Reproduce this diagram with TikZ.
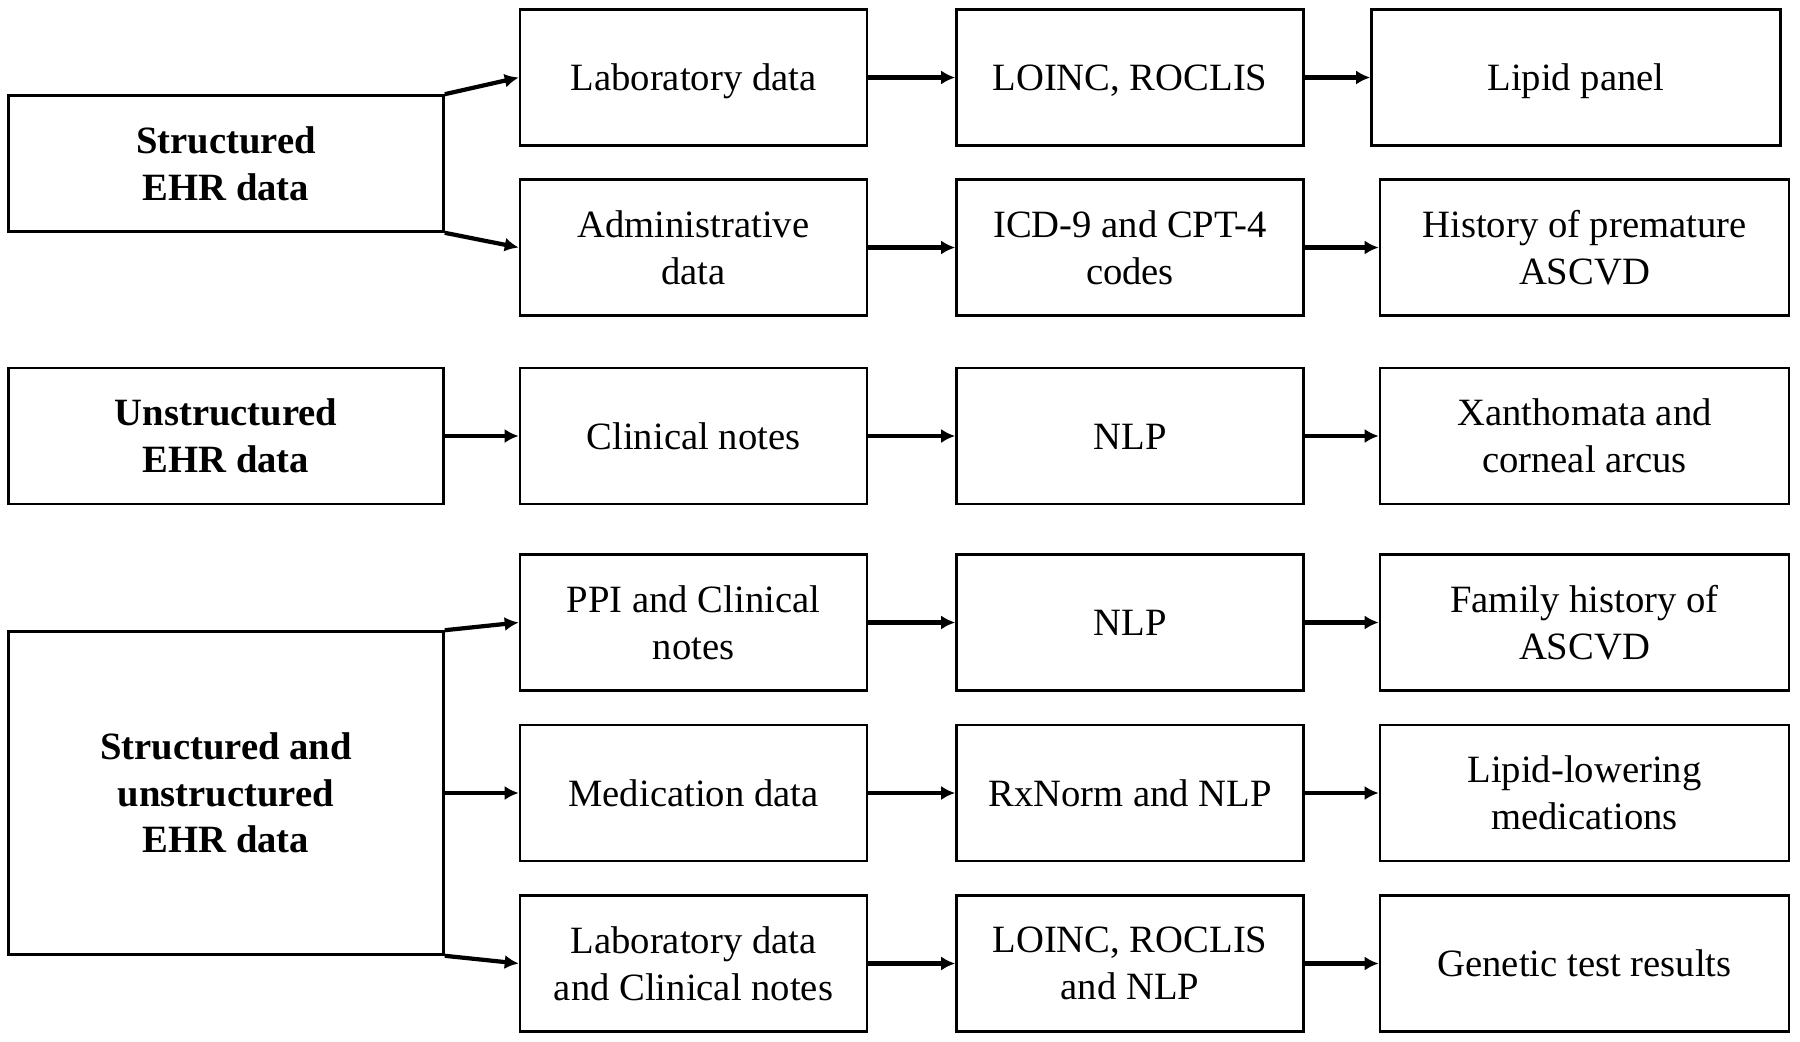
\documentclass[tikz,border=0pt]{standalone}
\usepackage{fontspec}
\setmainfont{Liberation Serif}
\usetikzlibrary{arrows.meta}
\tikzset{
  box/.style={draw, line width=1.5pt, minimum width=6.94cm, minimum height=2.72cm, align=center, inner sep=0pt,
    font=\fontsize{22}{26.6}\selectfont},
  one/.style={box, execute at begin node={\rule{0pt}{20.2pt}}, execute at end node={\rule[-5pt]{0pt}{5pt}}},
  src/.style={box, minimum width=8.7cm, font=\fontsize{22}{26.6}\selectfont\bfseries},
  wide/.style={box, minimum width=8.18cm},
  link/.style={->, line width=2.4pt}
}
\begin{document}
\begin{tikzpicture}[>={Latex[length=2.8mm,width=2.8mm]}, x=0.02cm, y=-0.02cm]
\useasboundingbox (0,0) rectangle (1800,1042);
\node[src] (s1) at (226,163.5) {Structured\\EHR data};
\node[src] (s2) at (226,436) {Unstructured\\EHR data};
\node[src, minimum height=6.46cm] (s3) at (226,793) {Structured and\\unstructured\\EHR data};
\node[one] (a1) at (693.5,77.5) {Laboratory data};
\node[one] (b1) at (1130,77.5) {LOINC, ROCLIS};
\node[one, wide] (c1) at (1576,77.5) {Lipid panel};
\node[box] (a2) at (693.5,247.5) {Administrative\\data};
\node[box] (b2) at (1130,247.5) {ICD-9 and CPT-4\\codes};
\node[wide] (c2) at (1584.5,247.5) {History of premature\\ASCVD};
\node[one] (a3) at (693.5,436) {Clinical notes};
\node[one] (b3) at (1130,436) {NLP};
\node[wide] (c3) at (1584.5,436) {Xanthomata and\\corneal arcus};
\node[box] (a4) at (693.5,622.5) {PPI and Clinical\\notes};
\node[one] (b4) at (1130,622.5) {NLP};
\node[wide] (c4) at (1584.5,622.5) {Family history of\\ASCVD};
\node[one] (a5) at (693.5,793) {Medication data};
\node[one] (b5) at (1130,793) {RxNorm and NLP};
\node[wide] (c5) at (1584.5,793) {Lipid-lowering\\medications};
\node[box] (a6) at (693.5,963.5) {Laboratory data\\and Clinical notes};
\node[box] (b6) at (1130,963.5) {LOINC, ROCLIS\\and NLP};
\node[one, wide] (c6) at (1584.5,963.5) {Genetic test results};
\draw[link] (s1.north east)--(a1.west);
\draw[link] (s1.south east)--(a2.west);
\draw[link] (s2.east)--(a3.west);
\draw[link] (s3.north east)--(a4.west);
\draw[link] (s3.east)--(a5.west);
\draw[link] (s3.south east)--(a6.west);
\foreach \r in {1,...,6}
{
    \draw[link] (a\r.east)--(b\r.west);
    \draw[link] (b\r.east)--(c\r.west);
}
\end{tikzpicture}
\end{document}
